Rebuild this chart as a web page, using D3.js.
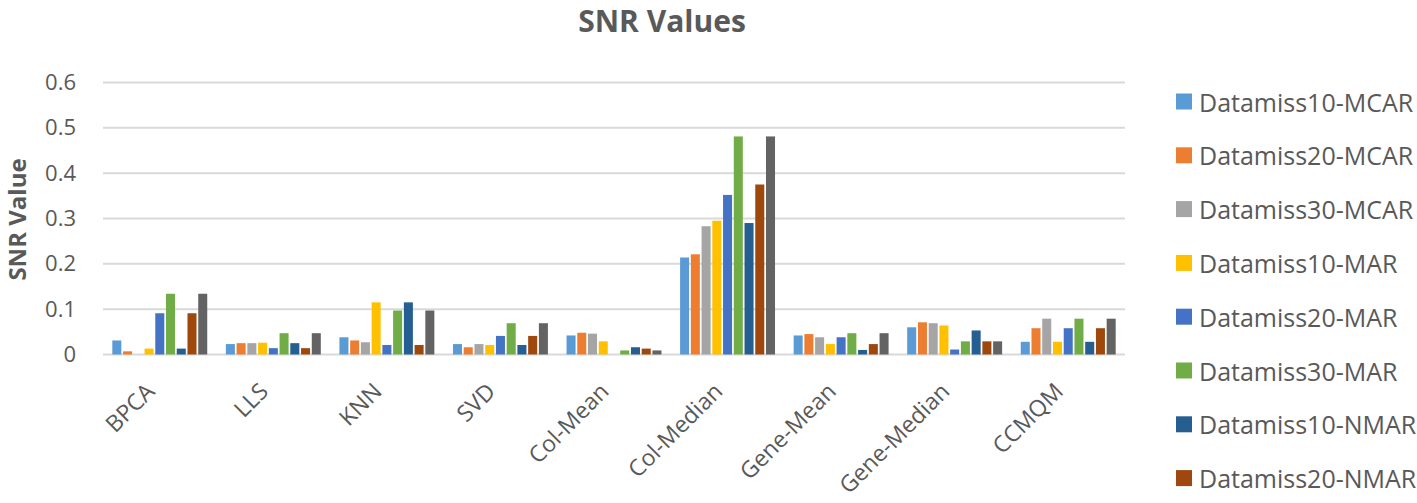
<!DOCTYPE html>
<html>
<head>
<meta charset="utf-8">
<script src="https://cdn.jsdelivr.net/npm/d3@7"></script>
<style>
  html, body { margin: 0; padding: 0; background: #fff; }
  svg { display: block; font-family: "Open Sans", sans-serif; }
</style>
</head>
<body>
<svg id="chart" width="1417" height="503"></svg>
<script>
const categories = ["BPCA", "LLS", "KNN", "SVD", "Col-Mean", "Col-Median", "Gene-Mean", "Gene-Median", "CCMQM"];
const seriesNames = ["Datamiss10-MCAR", "Datamiss20-MCAR", "Datamiss30-MCAR", "Datamiss10-MAR", "Datamiss20-MAR", "Datamiss30-MAR", "Datamiss10-NMAR", "Datamiss20-NMAR", "Datamiss30-NMAR"];
const datamiss10MCAR = [0.031, 0.023, 0.038, 0.023, 0.042, 0.214, 0.042, 0.060, 0.028];
const datamiss20MCAR = [0.007, 0.025, 0.031, 0.016, 0.048, 0.221, 0.045, 0.071, 0.058];
const datamiss30MCAR = [0.000, 0.025, 0.027, 0.023, 0.046, 0.283, 0.038, 0.069, 0.079];
const datamiss10MAR  = [0.013, 0.026, 0.115, 0.021, 0.029, 0.295, 0.023, 0.064, 0.028];
const datamiss20MAR  = [0.091, 0.014, 0.021, 0.041, 0.000, 0.352, 0.038, 0.011, 0.058];
const datamiss30MAR  = [0.134, 0.047, 0.097, 0.069, 0.009, 0.481, 0.047, 0.029, 0.079];
const datamiss10NMAR = [0.013, 0.025, 0.115, 0.021, 0.016, 0.290, 0.010, 0.053, 0.028];
const datamiss20NMAR = [0.091, 0.014, 0.021, 0.041, 0.013, 0.375, 0.023, 0.029, 0.058];
const datamiss30NMAR = [0.134, 0.047, 0.097, 0.069, 0.009, 0.481, 0.047, 0.029, 0.079];
const seriesValues = [datamiss10MCAR, datamiss20MCAR, datamiss30MCAR, datamiss10MAR, datamiss20MAR, datamiss30MAR, datamiss10NMAR, datamiss20NMAR, datamiss30NMAR];
const colors = ["#5B9BD5", "#ED7D31", "#A5A5A5", "#FFC000", "#4472C4", "#70AD47", "#255E91", "#9E480E", "#636363"];
const yTicks = [0, 0.1, 0.2, 0.3, 0.4, 0.5, 0.6];
const title = "SNR Values";
const yTitle = "SNR Value";

const W = 1417, H = 503;
const svg = d3.select("#chart");
const plot = { left: 103, right: 1125, top: 82.5, bottom: 354.5 };
const textColor = "#595959";

const x = d3.scaleBand().domain(categories).range([plot.left, plot.right]).paddingInner(0.164).paddingOuter(0.082);
const xs = d3.scaleBand().domain(seriesNames).range([0, x.bandwidth()]).paddingInner(0.16);
const y = d3.scaleLinear().domain([0, 0.6]).range([plot.bottom, plot.top]);

// gridlines
svg.append("g").selectAll("line").data(yTicks).join("line")
  .attr("x1", plot.left).attr("x2", plot.right)
  .attr("y1", d => y(d)).attr("y2", d => y(d))
  .attr("stroke", "#D9D9D9").attr("stroke-width", 2);

// y axis labels
const yAxis = d3.axisLeft(y).tickValues(yTicks).tickFormat(d => d === 0 ? "0" : d3.format(".1f")(d)).tickSize(0).tickPadding(0);
const yg = svg.append("g").attr("transform", `translate(${plot.left - 27},0)`).call(yAxis);
yg.select(".domain").remove();
yg.selectAll("text").attr("fill", textColor).style("font-size", "22px").style("font-family", "Open Sans");

// bars
const data = [];
categories.forEach((c, i) => seriesNames.forEach((s, j) => data.push({ c, s, j, v: seriesValues[j][i] })));
svg.append("g").selectAll("rect").data(data).join("rect")
  .attr("x", d => x(d.c) + xs(d.s))
  .attr("width", xs.bandwidth())
  .attr("y", d => y(d.v))
  .attr("height", d => y(0) - y(d.v))
  .attr("fill", d => colors[d.j]);

// x labels
const xAxis = d3.axisBottom(x).tickSize(0).tickPadding(0);
const xg = svg.append("g").attr("transform", `translate(0,${plot.bottom})`).call(xAxis);
xg.select(".domain").remove();
xg.selectAll("text")
  .attr("fill", textColor).style("font-size", "23px").style("font-family", "Open Sans")
  .attr("text-anchor", "end")
  .attr("dy", null).attr("y", 0)
  .attr("transform", "translate(-8,34) rotate(-45)")
  .attr("dominant-baseline", "middle");

// title
svg.append("text").attr("x", 662).attr("y", 32).attr("text-anchor", "middle")
  .attr("fill", textColor).style("font-size", "30px").style("font-weight", "bold").text(title);

// y title
svg.append("text").attr("transform", `translate(26,${(plot.top + plot.bottom) / 2 + 1}) rotate(-90)`)
  .attr("text-anchor", "middle").attr("fill", textColor)
  .style("font-size", "24px").style("font-weight", "bold").text(yTitle);

// legend (the reference shows only the entries that fit in the frame)
const legendStep = 53.8, legendTop = 101.5;
const legendItems = seriesNames.map((s, i) => ({ s, i })).filter(d => legendTop + d.i * legendStep + 14 < H);
const lg = svg.append("g").selectAll("g").data(legendItems).join("g")
  .attr("transform", d => `translate(1176,${legendTop + d.i * legendStep})`);
lg.append("rect").attr("x", 0).attr("y", -8).attr("width", 16).attr("height", 16).attr("fill", d => colors[d.i]);
lg.append("text").attr("x", 23).attr("y", 0).attr("dominant-baseline", "central")
  .attr("fill", textColor).style("font-size", "25px").text(d => d.s);
</script>
</body>
</html>
